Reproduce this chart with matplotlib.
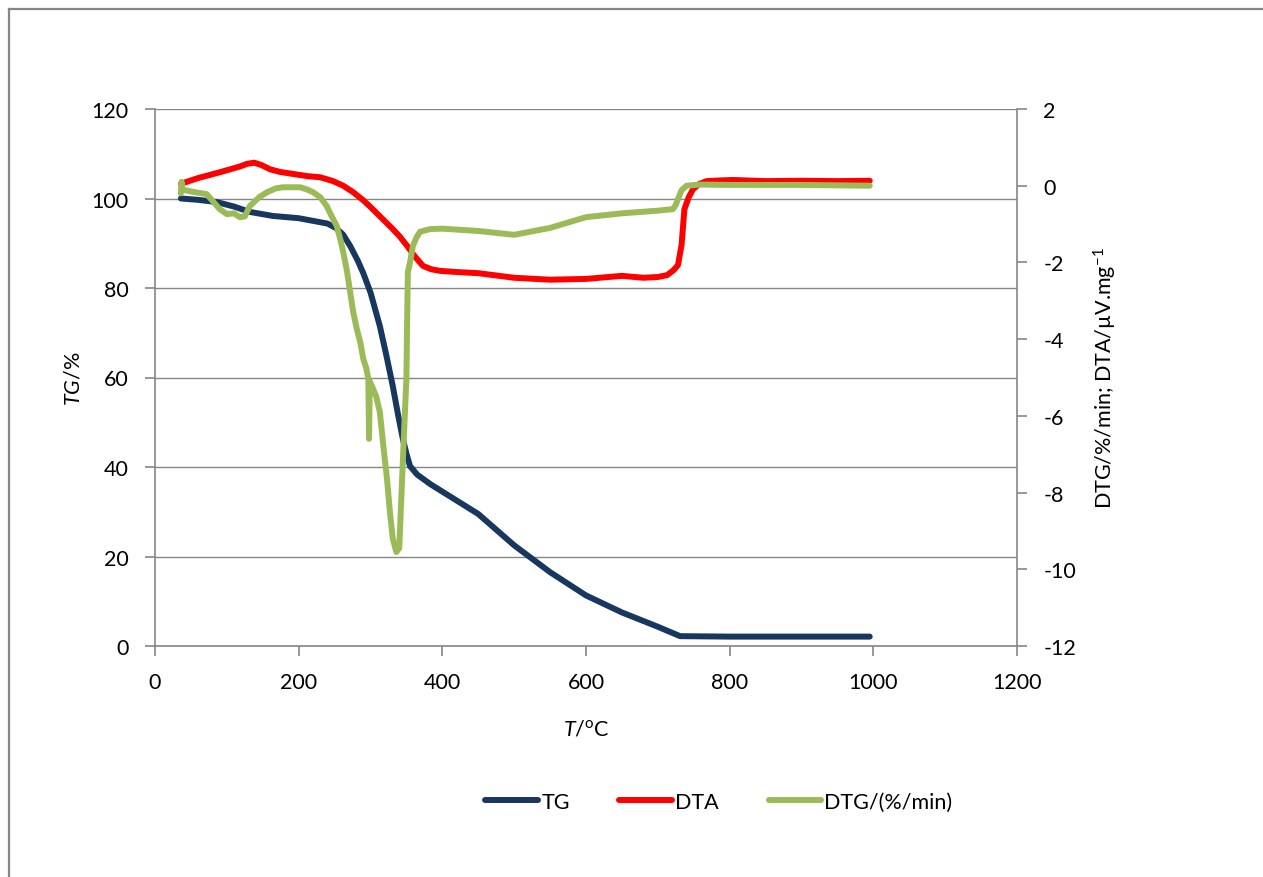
import matplotlib
matplotlib.use("Agg")
import matplotlib.pyplot as plt
from matplotlib.lines import Line2D

# ---------------- data ----------------
tg_T = [36, 60, 86, 110, 132, 164, 200, 220, 240, 252, 262, 272, 282, 290, 300, 313, 322, 331, 338, 345, 350,
        355, 365, 383, 400, 450, 500, 550, 600, 650, 700, 731, 800, 900, 995]
tg_val = [100, 99.7, 99.2, 98.2, 97.0, 96.1, 95.6, 95.0, 94.4, 93.4, 91.9, 89.3, 86.2, 83.3, 79, 71.5, 65, 58.1, 52,
          46.3, 43, 40.2, 38.3, 36.2, 34.5, 29.5, 22.5, 16.5, 11.3, 7.5, 4.3, 2.2, 2.1, 2.1, 2.1]

dta_T = [36, 60, 90, 118, 128, 138, 148, 160, 174, 212, 230, 248, 262, 276, 290, 303, 317, 331, 341, 351, 362, 373,
         385, 397, 420, 450, 500, 550, 600, 650, 680, 700, 713, 722, 728, 733, 737, 743, 749, 758, 768, 790,
         805, 850, 900, 950, 995]
dta_val = [0.05, 0.2, 0.35, 0.5, 0.57, 0.6, 0.54, 0.43, 0.36, 0.25, 0.22, 0.12, -0.0, -0.17, -0.38, -0.61, -0.87,
           -1.13, -1.33, -1.57, -1.85, -2.09, -2.18, -2.22, -2.25, -2.28, -2.4, -2.45, -2.43, -2.35, -2.4, -2.38,
           -2.33, -2.2, -2.07, -1.55, -0.61, -0.3, -0.09, 0.05, 0.12, 0.14, 0.15, 0.12, 0.13, 0.12, 0.13]

dtg_T = [36, 37, 38, 50, 72, 90, 100, 110, 118, 125, 132, 145, 156, 168, 178, 202, 212, 220, 230, 239,
         246, 253, 258, 262, 267, 271, 276, 281, 286, 290, 294, 297, 298, 299, 302, 308, 313, 318, 323, 327,
         331, 336, 340, 344, 347, 350, 351, 352, 355, 359, 364, 369, 383, 400, 450, 500, 550, 600, 650, 700,
         721, 725, 728, 733, 740, 759, 800, 900, 995]
dtg_val = [-0.2, 0.1, -0.1, -0.15, -0.22, -0.61, -0.74, -0.72, -0.82, -0.8, -0.53, -0.3, -0.17, -0.07, -0.04, -0.04,
           -0.1, -0.17, -0.3, -0.53, -0.8, -1.05, -1.4, -1.73, -2.2, -2.69, -3.3, -3.74, -4.1, -4.52, -4.75, -5.04,
           -6.6, -5.1, -5.22, -5.5, -5.9, -6.8, -7.65, -8.5, -9.2, -9.55, -9.45, -7.65, -6.3, -5.04, -3.5, -2.25,
           -2.0, -1.57, -1.35, -1.2, -1.13, -1.12, -1.18, -1.28, -1.1, -0.82, -0.72, -0.65, -0.61, -0.5, -0.35,
           -0.12, 0.0, 0.03, 0.02, 0.02, 0.0]

x_ticks = [0, 200, 400, 600, 800, 1000, 1200]
left_ticks = [0, 20, 40, 60, 80, 100, 120]
right_ticks = [-12, -10, -8, -6, -4, -2, 0, 2]

series_names = ["TG", "DTA", "DTG/(%/min)"]

# ---------------- style ----------------
plt.rcParams['font.family'] = ['Lato', 'DejaVu Sans']
plt.rcParams['mathtext.fontset'] = 'custom'
plt.rcParams['mathtext.rm'] = 'Lato'
plt.rcParams['mathtext.it'] = 'Lato:italic'
plt.rcParams['mathtext.bf'] = 'Lato:bold'
plt.rcParams['axes.unicode_minus'] = False

GRAY = '#868686'
NAVY = '#17375E'
RED = '#FF0000'
GREEN = '#9BBB59'
FS = 15.5
LW = 4.3

W, H = 1263, 878
fig = plt.figure(figsize=(W / 100, H / 100), dpi=100)
fig.patch.set_facecolor('white')

# outer chart-area border (left and top visible)
fig.add_artist(Line2D([8.5 / W, 8.5 / W], [-0.05, 1 - 10 / H], transform=fig.transFigure, color=GRAY, lw=1.6))
fig.add_artist(Line2D([8.5 / W, 1.05], [1 - 10 / H, 1 - 10 / H], transform=fig.transFigure, color=GRAY, lw=1.6))

l, r, b, t = 155 / W, 1017 / W, 1 - 647 / H, 1 - 110 / H
ax = fig.add_axes([l, b, r - l, t - b])
ax2 = ax.twinx()

ax.set_xlim(0, 1200)
ax.set_ylim(0, 120)
ax2.set_ylim(-12, 2)
ax.set_xticks(x_ticks)
ax.set_yticks(left_ticks)
ax2.set_yticks(right_ticks)

ax.grid(axis='y', color=GRAY, lw=1.0)
ax.set_axisbelow(True)

for a in (ax, ax2):
    for s in a.spines.values():
        s.set_color(GRAY)
        s.set_linewidth(1.2)
    a.spines['top'].set_visible(False)
    a.tick_params(colors=GRAY, labelcolor='black', labelsize=FS, length=7, width=1.2, direction='out')
ax.spines['right'].set_visible(False)
ax2.spines['left'].set_visible(False)
ax2.spines['bottom'].set_visible(False)
ax.tick_params(axis='y', pad=12)
ax.tick_params(axis='x', pad=12)
ax2.tick_params(axis='y', pad=12)

h1, = ax.plot(tg_T, tg_val, color=NAVY, lw=LW, solid_capstyle='round', solid_joinstyle='round', label=series_names[0])
h2, = ax2.plot(dta_T, dta_val, color=RED, lw=LW, solid_capstyle='round', solid_joinstyle='round', label=series_names[1])
h3, = ax2.plot(dtg_T, dtg_val, color=GREEN, lw=LW, solid_capstyle='round', solid_joinstyle='round', label=series_names[2])

ax.set_ylabel(r"$\mathit{TG}$/%", fontsize=FS, labelpad=6)
ax.set_xlabel(r"$\mathit{T}$/$^{\mathrm{o}}$C", fontsize=FS, labelpad=19)
ax2.set_ylabel("DTG/%/min; DTA/\u00b5V.mg$^{-1}$", fontsize=FS, labelpad=11)

fig.legend(handles=[h1, h2, h3], loc='center', bbox_to_anchor=(719 / W, 1 - 803 / H), ncol=3,
           frameon=False, fontsize=FS, handlelength=2.45, handletextpad=0.15, columnspacing=2.3)

fig.savefig('out.png', dpi=100, facecolor='white')
